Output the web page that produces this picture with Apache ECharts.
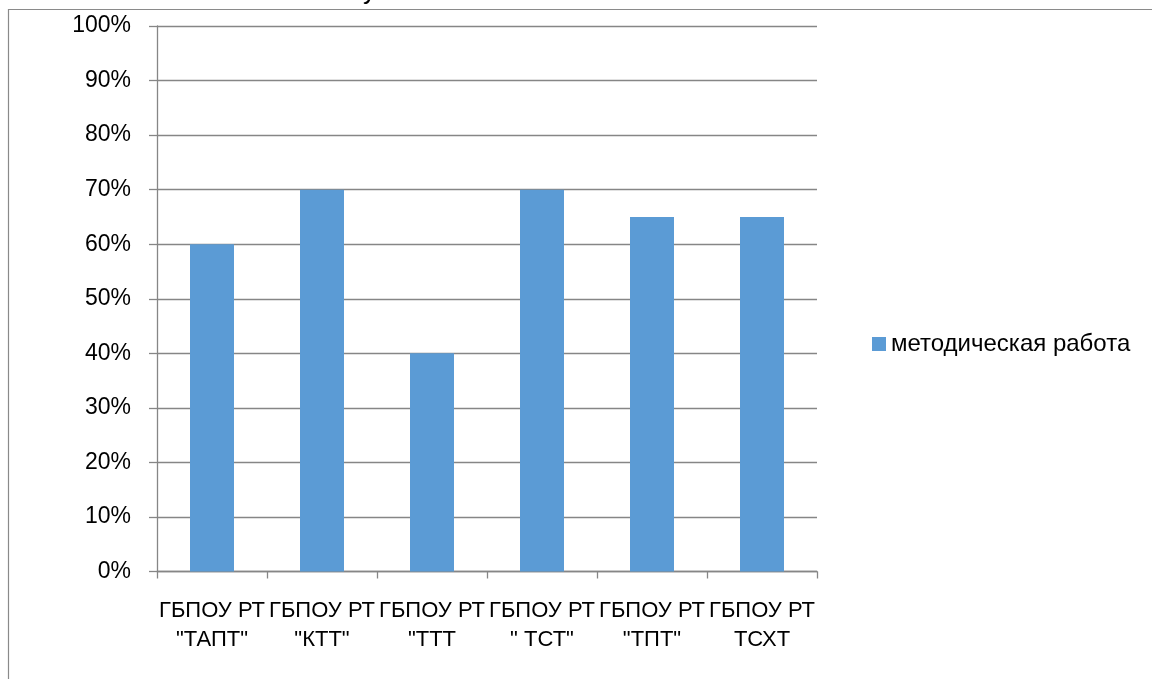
<!DOCTYPE html>
<html>
<head>
<meta charset="utf-8">
<script src="https://cdn.jsdelivr.net/npm/echarts@6/dist/echarts.min.js"></script>
<style>html,body{margin:0;padding:0;background:#fff}#c{width:1152px;height:679px}</style>
</head>
<body>
<div id="c"></div>
<script>
const categories = ['ГБПОУ РТ "ТАПТ"', 'ГБПОУ РТ "КТТ"', 'ГБПОУ РТ "ТТТ', 'ГБПОУ РТ " ТСТ"', 'ГБПОУ РТ "ТПТ"', 'ГБПОУ РТ ТСХТ'];
const seriesName = 'методическая работа';
const values = [0.60, 0.70, 0.40, 0.70, 0.65, 0.65];
const yTicks = [0, 0.1, 0.2, 0.3, 0.4, 0.5, 0.6, 0.7, 0.8, 0.9, 1.0];

const FONT = '"Liberation Sans", Arial, sans-serif';
const chart = echarts.init(document.getElementById('c'), null, {renderer: 'canvas'});
chart.setOption({
  animation: false,
  backgroundColor: '#ffffff',
  graphic: [
    {type: 'rect', shape: {x: 8.5, y: 9.5, width: 1200, height: 700}, style: {fill: 'none', stroke: '#8a8a8a', lineWidth: 1.2}, z: 0},
    {type: 'text', x: 363, y: 5, style: {text: 'у', font: '26px ' + FONT, fill: '#000', verticalAlign: 'bottom'}, z: 1}
  ],
  grid: {left: 157, right: 335, top: 26, bottom: 107.5, containLabel: false},
  legend: {
    show: true,
    data: [seriesName],
    orient: 'vertical',
    left: 872,
    top: 332,
    itemWidth: 14,
    itemHeight: 14,
    itemGap: 7,
    icon: 'rect',
    textStyle: {fontFamily: FONT, fontSize: 24, color: '#000', padding: [0, 0, 0, 0]},
    padding: 0
  },
  xAxis: {
    type: 'category',
    data: categories,
    boundaryGap: true,
    axisLine: {show: true, lineStyle: {color: '#868686', width: 1.3}},
    axisTick: {show: true, alignWithLabel: false, length: 7, lineStyle: {color: '#868686', width: 1.3}},
    axisLabel: {
      interval: 0,
      margin: 25,
      fontFamily: FONT,
      fontSize: 22,
      color: '#000',
      lineHeight: 29,
      formatter: function (v) { return v.replace('ГБПОУ РТ ', 'ГБПОУ РТ\n'); }
    },
    splitLine: {show: false}
  },
  yAxis: {
    type: 'value',
    min: 0,
    max: 1,
    interval: 0.1,
    axisLine: {show: true, lineStyle: {color: '#868686', width: 1.3}},
    axisTick: {show: true, length: 8, lineStyle: {color: '#868686', width: 1.3}},
    axisLabel: {
      margin: 26,
      fontFamily: FONT,
      fontSize: 23,
      color: '#000',
      formatter: function (v) { return Math.round(v * 100) + '%'; }
    },
    splitLine: {show: true, lineStyle: {color: '#868686', width: 1.3}}
  },
  series: [{
    name: seriesName,
    type: 'bar',
    data: values,
    barWidth: '40%',
    itemStyle: {color: '#5B9BD5'}
  }]
});
</script>
</body>
</html>
